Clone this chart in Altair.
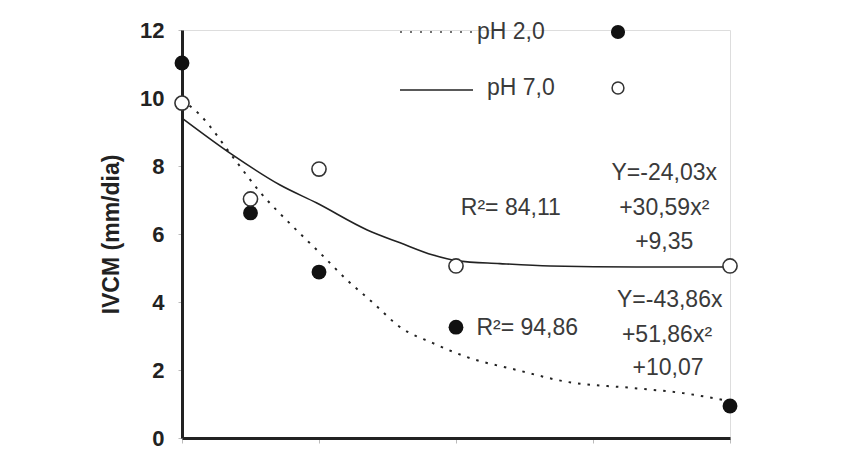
import altair as alt
import pandas as pd

# observed points
conc = [0, 0.125, 0.25, 0.5, 1.0]
ph2_obs = [11.03, 6.62, 4.88, 3.26, 0.94]
ph7_obs = [9.85, 7.03, 7.91, 5.06, 5.06]

# fitted curves
ph7_fit_x = [0, 0.093, 0.179, 0.246, 0.338, 0.398, 0.458, 0.502, 0.58, 0.672, 0.83, 1.0]
ph7_fit_y = [9.41, 8.32, 7.44, 6.91, 6.12, 5.74, 5.38, 5.21, 5.13, 5.06, 5.03, 5.03]
ph2_fit_x = [0, 0.033, 0.093, 0.142, 0.203, 0.252, 0.301, 0.349, 0.398, 0.458, 0.52, 0.611, 0.703, 0.823, 0.914, 1.0]
ph2_fit_y = [9.94, 9.5, 8.26, 7.24, 6.21, 5.44, 4.65, 3.97, 3.26, 2.79, 2.38, 2.0, 1.65, 1.47, 1.32, 1.08]

# annotations
ann_text = ["R²= 84,11", "Y=-24,03x", "+30,59x²", "+9,35",
            "R²= 94,86", "Y=-43,86x", "+51,86x²", "+10,07"]
ann_x = [0.600, 0.880, 0.880, 0.880, 0.630, 0.890, 0.885, 0.887]
ann_y = [6.76, 7.79, 6.76, 5.76, 3.24, 4.06, 3.03, 2.06]

pts = pd.DataFrame({"x": conc * 2, "y": ph2_obs + ph7_obs,
                    "s": ["pH 2,0"] * 5 + ["pH 7,0"] * 5})
f7 = pd.DataFrame({"x": ph7_fit_x, "y": ph7_fit_y})
f2 = pd.DataFrame({"x": ph2_fit_x, "y": ph2_fit_y})
ann = pd.DataFrame({"t": ann_text, "x": ann_x, "y": ann_y})

FONT = "Liberation Sans"
TXT = "#3a3a3a"
xs = alt.Scale(domain=[0, 1], nice=False)
ys = alt.Scale(domain=[0, 12], nice=False)

xax = alt.Axis(values=[0, 0.25, 0.5, 0.75, 1.0], labels=False, title=None, grid=False,
               domainWidth=3, domainColor="#222", tickColor="#bbb", tickSize=5)
yax = alt.Axis(values=[0, 2, 4, 6, 8, 10, 12], title="IVCM (mm/dia)", grid=False,
               domainWidth=3, domainColor="#222", tickColor="#bbb", tickSize=4,
               labelFont=FONT, labelFontSize=22, labelFontWeight="bold", labelColor="#222",
               labelPadding=14, titleFont=FONT, titleFontSize=23, titleFontWeight="bold",
               titleColor="#222", titlePadding=16)

line7 = alt.Chart(f7).mark_line(color="#222", strokeWidth=1.6, interpolate="monotone").encode(
    x=alt.X("x:Q", scale=xs, axis=xax), y=alt.Y("y:Q", scale=ys, axis=yax))
line2 = alt.Chart(f2).mark_line(color="#222", strokeWidth=2, strokeDash=[2.5, 7],
                                interpolate="monotone").encode(
    x=alt.X("x:Q", scale=xs), y=alt.Y("y:Q", scale=ys))

filled = alt.Chart(pts[pts.s == "pH 2,0"]).mark_point(
    shape="circle", filled=True, fill="#111", size=220, opacity=1).encode(
    x=alt.X("x:Q", scale=xs), y=alt.Y("y:Q", scale=ys))
opened = alt.Chart(pts[pts.s == "pH 7,0"]).mark_point(
    shape="circle", filled=True, fill="white", stroke="#333", strokeWidth=1.6,
    size=200, opacity=1).encode(
    x=alt.X("x:Q", scale=xs), y=alt.Y("y:Q", scale=ys))

text = alt.Chart(ann).mark_text(font=FONT, fontSize=23, color=TXT, align="center",
                                baseline="middle").encode(
    x=alt.X("x:Q", scale=xs), y=alt.Y("y:Q", scale=ys), text="t:N")

# legend
leg_src = pd.DataFrame({"a": [0]})
leg_line2 = alt.Chart(leg_src).mark_rule(color="#444", strokeWidth=1.5, strokeDash=[2, 8]).encode(
    x=alt.value(218), x2=alt.value(292), y=alt.value(2))
leg_line7 = alt.Chart(leg_src).mark_rule(color="#222", strokeWidth=1.6).encode(
    x=alt.value(218), x2=alt.value(291), y=alt.value(60))
leg_t2 = alt.Chart(leg_src).mark_text(text="pH 2,0", font=FONT, fontSize=23, color=TXT,
                                      align="left", baseline="middle").encode(
    x=alt.value(295), y=alt.value(2))
leg_t7 = alt.Chart(leg_src).mark_text(text="pH 7,0", font=FONT, fontSize=23, color=TXT,
                                      align="left", baseline="middle").encode(
    x=alt.value(305), y=alt.value(58))
leg_p2 = alt.Chart(leg_src).mark_point(shape="circle", filled=True, fill="#111", size=200,
                                       opacity=1).encode(x=alt.value(436), y=alt.value(2))
leg_p7 = alt.Chart(leg_src).mark_point(shape="circle", filled=True, fill="white", stroke="#333",
                                       strokeWidth=1.5, size=140, opacity=1).encode(
    x=alt.value(436), y=alt.value(58))

chart = alt.layer(line7, line2, filled, opened, text,
                  leg_line2, leg_line7, leg_t2, leg_t7, leg_p2, leg_p7).properties(
    width=548, height=408,
    autosize=alt.AutoSizeParams(type="none"),
    padding={"left": 174, "top": 22, "right": 100, "bottom": 12},
).configure_view(stroke=None).configure(background="white")

chart.save("out.html", embed_options={"renderer": "svg", "actions": False})
